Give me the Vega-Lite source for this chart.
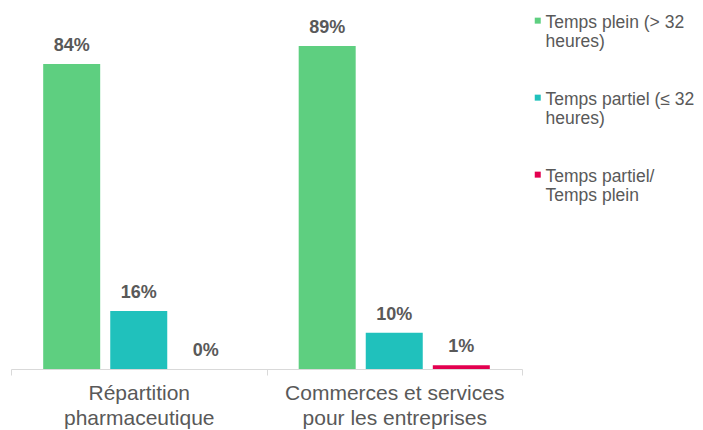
{
  "$schema": "https://vega.github.io/schema/vega-lite/v6.json",
  "width": 511,
  "height": 363,
  "autosize": {"type": "none"},
  "padding": {"left": 11, "top": 6, "right": 181, "bottom": 61},
  "background": "white",
  "config": {
    "font": "Liberation Sans",
    "view": {"stroke": null}
  },
  "data": {
    "values": [
      {"secteur": "Répartition pharmaceutique", "serie": "Temps plein (> 32 heures)", "valeur": 84},
      {"secteur": "Répartition pharmaceutique", "serie": "Temps partiel (≤ 32 heures)", "valeur": 16},
      {"secteur": "Répartition pharmaceutique", "serie": "Temps partiel/ Temps plein", "valeur": 0},
      {"secteur": "Commerces et services pour les entreprises", "serie": "Temps plein (> 32 heures)", "valeur": 89},
      {"secteur": "Commerces et services pour les entreprises", "serie": "Temps partiel (≤ 32 heures)", "valeur": 10},
      {"secteur": "Commerces et services pour les entreprises", "serie": "Temps partiel/ Temps plein", "valeur": 1}
    ]
  },
  "encoding": {
    "x": {
      "field": "secteur",
      "type": "nominal",
      "sort": ["Répartition pharmaceutique", "Commerces et services pour les entreprises"],
      "scale": {"paddingInner": 0, "paddingOuter": 0},
      "axis": {
        "title": null,
        "labelAngle": 0,
        "labelFontSize": 21,
        "labelColor": "#595959",
        "labelLineHeight": 25,
        "labelPadding": 7,
        "labelLimit": 400,
        "labelExpr": "datum.label == 'Répartition pharmaceutique' ? ['Répartition', 'pharmaceutique'] : datum.label == 'Commerces et services pour les entreprises' ? ['Commerces et services', 'pour les entreprises'] : ''",
        "domainColor": "#d9d9d9",
        "tickColor": "#d9d9d9",
        "tickSize": 6,
        "tickBand": "extent",
        "grid": false
      }
    },
    "xOffset": {
      "field": "serie",
      "type": "nominal",
      "sort": ["Temps plein (> 32 heures)", "Temps partiel (≤ 32 heures)", "Temps partiel/ Temps plein"],
      "scale": {"paddingInner": 0.15, "paddingOuter": 0.48}
    },
    "y": {
      "field": "valeur",
      "type": "quantitative",
      "scale": {"domain": [0, 100]},
      "axis": null
    }
  },
  "layer": [
    {
      "mark": {"type": "bar"},
      "encoding": {
        "color": {
          "field": "serie",
          "type": "nominal",
          "sort": ["Temps plein (> 32 heures)", "Temps partiel (≤ 32 heures)", "Temps partiel/ Temps plein"],
          "scale": {"range": ["#5ECF80", "#20C1BC", "#E3004F"]},
          "legend": {
            "title": null,
            "orient": "none",
            "legendX": 518,
            "legendY": -1,
            "symbolType": "M-1,1.3H1V3.3H-1Z",
            "symbolSize": 36,
            "symbolStrokeWidth": 0,
            "labelFontSize": 17.5,
            "labelColor": "#595959",
            "labelLineHeight": 20,
            "labelBaseline": "top",
            "labelOffset": -1,
            "rowPadding": 31,
            "labelLimit": 200,
            "labelExpr": "datum.label == 'Temps plein (> 32 heures)' ? ['Temps plein (> 32', 'heures)'] : datum.label == 'Temps partiel (≤ 32 heures)' ? ['Temps partiel (≤ 32', 'heures)'] : ['Temps partiel/', 'Temps plein']"
          }
        }
      }
    },
    {
      "transform": [{"calculate": "datum.valeur + '%'", "as": "etiquette"}],
      "mark": {"type": "text", "baseline": "alphabetic", "dy": -13, "fontSize": 18, "fontWeight": "bold", "color": "#595959"},
      "encoding": {
        "text": {"field": "etiquette", "type": "nominal"}
      }
    }
  ]
}
